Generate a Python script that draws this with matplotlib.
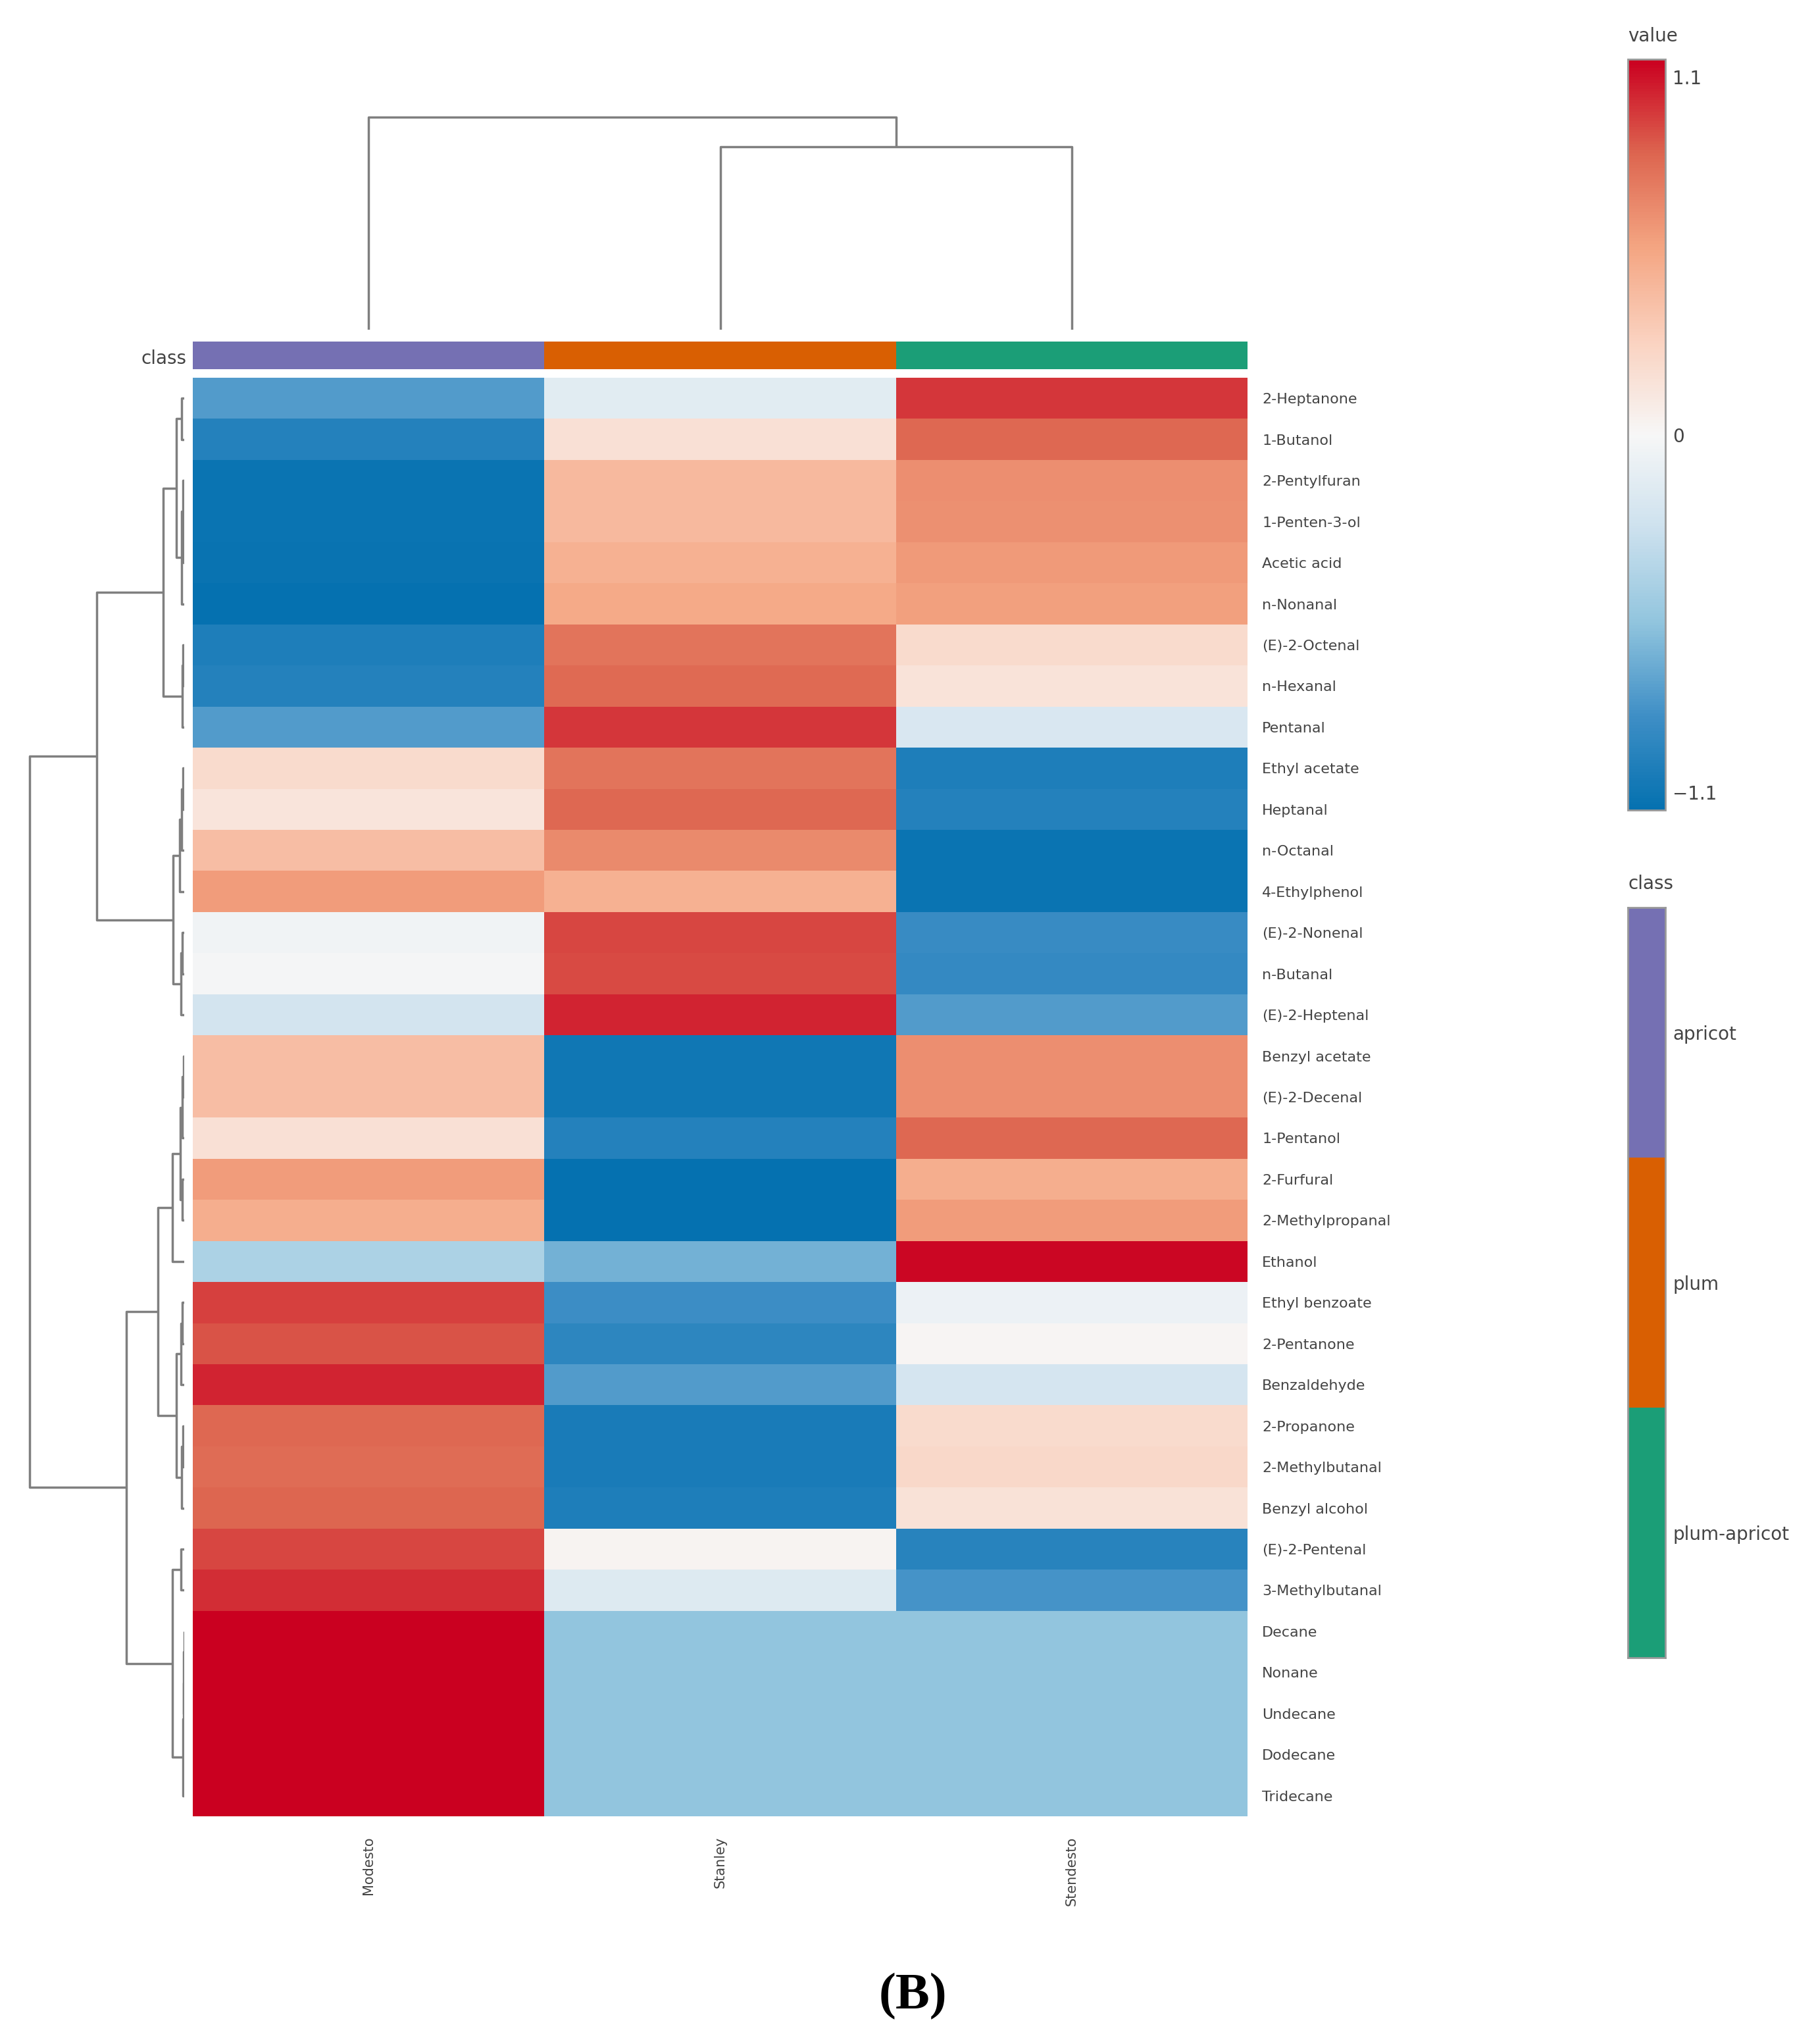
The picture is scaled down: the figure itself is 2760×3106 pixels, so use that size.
import numpy as np
import matplotlib
matplotlib.use('Agg')
import matplotlib.pyplot as plt
from matplotlib.colors import LinearSegmentedColormap, ListedColormap, Normalize

# ---- data ----
samples = ['Modesto', 'Stanley', 'Stendesto']
sample_class = ['apricot', 'plum', 'plum-apricot']
class_names = ['apricot', 'plum', 'plum-apricot']
class_colors = ['#7570b3', '#d95f02', '#1b9e77']

compounds = ['2-Heptanone', '1-Butanol', '2-Pentylfuran', '1-Penten-3-ol', 'Acetic acid',
             'n-Nonanal', '(E)-2-Octenal', 'n-Hexanal', 'Pentanal', 'Ethyl acetate',
             'Heptanal', 'n-Octanal', '4-Ethylphenol', '(E)-2-Nonenal', 'n-Butanal',
             '(E)-2-Heptenal', 'Benzyl acetate', '(E)-2-Decenal', '1-Pentanol', '2-Furfural',
             '2-Methylpropanal', 'Ethanol', 'Ethyl benzoate', '2-Pentanone', 'Benzaldehyde',
             '2-Propanone', '2-Methylbutanal', 'Benzyl alcohol', '(E)-2-Pentenal',
             '3-Methylbutanal', 'Decane', 'Nonane', 'Undecane', 'Dodecane', 'Tridecane']

# scaled values (z-scores per compound), columns: Modesto, Stanley, Stendesto
modesto = [-0.80, -1.00, -1.12, -1.12, -1.13, -1.15, -1.02, -1.00, -0.80, 0.22,
           0.15, 0.42, 0.62, -0.05, -0.02, -0.25, 0.42, 0.42, 0.18, 0.62,
           0.52, -0.45, 0.97, 0.92, 1.05, 0.85, 0.83, 0.86, 0.95, 1.02,
           1.155, 1.155, 1.155, 1.155, 1.155]
stanley = [-0.15, 0.18, 0.45, 0.45, 0.50, 0.55, 0.80, 0.84, 1.00, 0.80,
           0.85, 0.70, 0.50, 0.95, 0.94, 1.05, -1.10, -1.10, -1.00, -1.15,
           -1.15, -0.68, -0.88, -0.95, -0.80, -1.05, -1.05, -1.02, 0.03, -0.18,
           -0.577, -0.577, -0.577, -0.577, -0.577]
stendesto = [1.00, 0.85, 0.68, 0.67, 0.63, 0.60, 0.22, 0.16, -0.20, -1.02,
             -1.00, -1.12, -1.12, -0.90, -0.92, -0.80, 0.68, 0.68, 0.85, 0.52,
             0.62, 1.13, -0.08, 0.02, -0.23, 0.22, 0.24, 0.17, -0.98, -0.84,
             -0.577, -0.577, -0.577, -0.577, -0.577]

# row dendrogram merges (child a, child b, height); ids >= 35 refer to earlier merges
row_merges = [(0, 1, 0.04), (3, 4, 0.01), (2, 36, 0.02), (37, 5, 0.04), (35, 38, 0.12),
              (6, 7, 0.02), (40, 8, 0.035), (39, 41, 0.32),
              (9, 10, 0.02), (43, 11, 0.04), (44, 12, 0.07), (13, 14, 0.03), (46, 15, 0.05),
              (45, 47, 0.17), (42, 48, 1.33),
              (16, 17, 0.01), (50, 18, 0.03), (19, 20, 0.03), (51, 52, 0.06), (53, 21, 0.18),
              (22, 23, 0.03), (55, 24, 0.05), (25, 26, 0.02), (57, 27, 0.04), (56, 58, 0.12),
              (54, 59, 0.40), (28, 29, 0.05), (30, 31, 0.004), (62, 32, 0.008), (63, 33, 0.012),
              (64, 34, 0.016), (61, 65, 0.18), (60, 66, 0.88), (49, 67, 2.35)]
col_merges = [(1, 2, 0.86), (0, 3, 1.0)]

W, H = 2760, 3106
TXT = '#444444'
LINE = '#7f7f7f'


def box(x0, y0, x1, y1):
    # pixel box (top-left origin) -> figure fraction rect
    return [x0 / W, 1 - y1 / H, (x1 - x0) / W, (y1 - y0) / H]


def dendro_segments(merges, n):
    pos = {i: i + 0.5 for i in range(n)}
    hgt = {i: 0.0 for i in range(n)}
    segs = []
    for k, (a, b, h) in enumerate(merges):
        segs.append(([hgt[a], h, h, hgt[b]], [pos[a], pos[a], pos[b], pos[b]]))
        pos[n + k] = (pos[a] + pos[b]) / 2
        hgt[n + k] = h
    return segs


cmap = LinearSegmentedColormap.from_list('rdbu5', [
    (0.0, '#0571b0'), (0.125, '#3f8fc6'), (0.25, '#92c5de'), (0.375, '#cde1ee'),
    (0.5, '#f7f7f7'), (0.625, '#fad2c0'), (0.75, '#f4a582'), (0.875, '#dd6650'),
    (1.0, '#ca0020')])
vlim = 1.1547

fig = plt.figure(figsize=(W / 100, H / 100), dpi=100)

# heatmap
vals = np.array([modesto, stanley, stendesto]).T
ax = fig.add_axes(box(293, 574, 1896, 2760))
ax.pcolormesh(vals, cmap=cmap, vmin=-vlim, vmax=vlim)
ax.set_xlim(0, 3)
ax.set_ylim(len(compounds), 0)
ax.yaxis.tick_right()
ax.set_yticks(np.arange(len(compounds)) + 0.5)
ax.set_yticklabels(compounds, fontsize=16, color=TXT)
ax.set_xticks(np.arange(3) + 0.5)
ax.set_xticklabels(samples, rotation=90, fontsize=15, color=TXT, va='top')
ax.tick_params(length=0)
ax.tick_params(axis='y', pad=16)
ax.tick_params(axis='x', pad=22)
for s in ax.spines.values():
    s.set_visible(False)

# class annotation bar
axc = fig.add_axes(box(293, 519, 1896, 561))
cls_idx = [class_names.index(c) for c in sample_class]
axc.pcolormesh([cls_idx], cmap=ListedColormap(class_colors), vmin=-0.5, vmax=2.5)
axc.set_xlim(0, 3)
axc.set_xticks([])
axc.set_yticks([])
for s in axc.spines.values():
    s.set_visible(False)
fig.text(283 / W, 1 - 545 / H, 'class', ha='right', va='center', fontsize=20, color=TXT)

# column dendrogram
axd = fig.add_axes(box(293, 170, 1896, 501))
for hs, ps in dendro_segments(col_merges, 3):
    axd.plot(ps, hs, color=LINE, lw=2.5, solid_capstyle='butt')
axd.set_xlim(0, 3)
axd.set_ylim(0, 1.025)
axd.axis('off')

# row dendrogram
axr = fig.add_axes(box(30, 574, 280, 2760))
for hs, ps in dendro_segments(row_merges, len(compounds)):
    axr.plot(hs, ps, color=LINE, lw=2.5, solid_capstyle='butt')
axr.set_xlim(2.5, 0)
axr.set_ylim(len(compounds), 0)
axr.axis('off')

# colorbar
cax = fig.add_axes(box(2474, 90, 2531, 1231))
cb = fig.colorbar(plt.cm.ScalarMappable(norm=Normalize(-vlim, vlim), cmap=cmap), cax=cax)
cb.set_ticks([-1.1, 0, 1.1])
cb.set_ticklabels(['\u22121.1', '0', '1.1'])
cb.ax.tick_params(length=0, labelsize=20, labelcolor=TXT, pad=8)
cb.outline.set_edgecolor('#999999')
cb.outline.set_linewidth(2)
fig.text(2474 / W, 1 - 55 / H, 'value', ha='left', va='center', fontsize=20, color=TXT)

# class legend
axl = fig.add_axes(box(2474, 1379, 2531, 2519))
axl.pcolormesh(np.arange(3).reshape(3, 1), cmap=ListedColormap(class_colors), vmin=-0.5, vmax=2.5)
axl.set_ylim(3, 0)
axl.set_xticks([])
axl.yaxis.tick_right()
axl.set_yticks(np.arange(3) + 0.5)
axl.set_yticklabels(class_names, fontsize=20, color=TXT)
axl.tick_params(length=0, pad=8)
for s in axl.spines.values():
    s.set_edgecolor('#999999')
    s.set_linewidth(2)
fig.text(2474 / W, 1 - 1343 / H, 'class', ha='left', va='center', fontsize=20, color=TXT)

# panel label
fig.text(1387 / W, 1 - 3034 / H, '(B)', ha='center', va='center', fontsize=56,
         fontweight='bold', family='Liberation Serif', color='black')

fig.savefig('out.png', dpi=100, facecolor='white')
